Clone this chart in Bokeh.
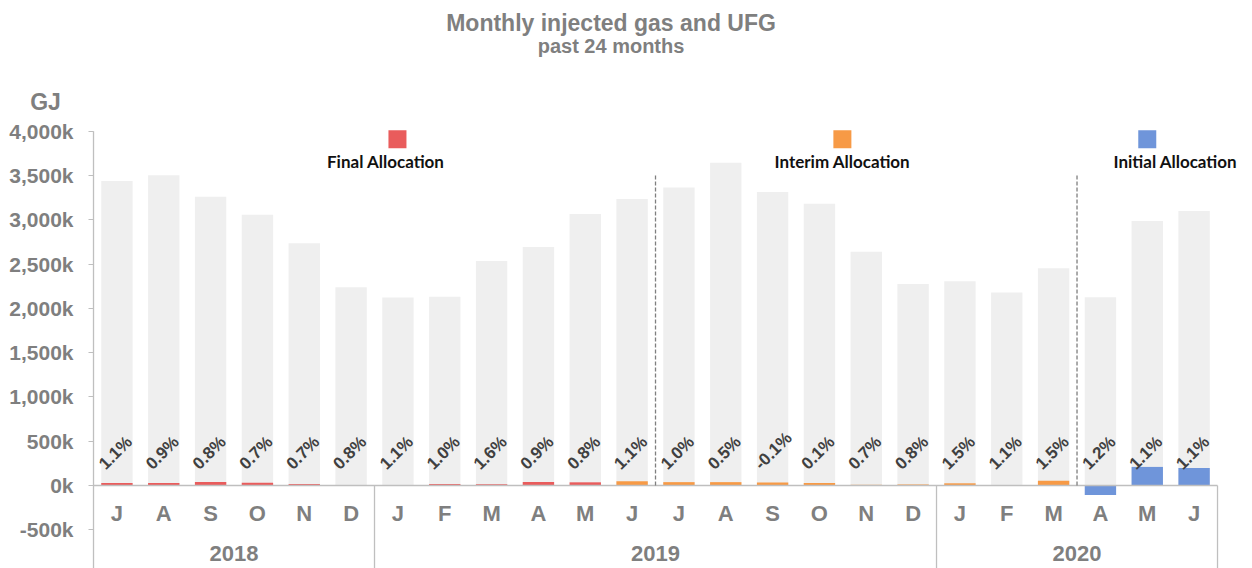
import math
from itertools import accumulate
from bokeh.plotting import figure
from bokeh.models import Range1d, LinearAxis, FixedTicker, Label, ColumnDataSource
from bokeh.core.properties import value
from bokeh.embed import file_html
from bokeh.resources import INLINE

# ---------------- data ----------------
years = ["2018", "2019", "2020"]
months_per_year = [6, 12, 6]
months = ["J", "A", "S", "O", "N", "D",
          "J", "F", "M", "A", "M", "J", "J", "A", "S", "O", "N", "D",
          "J", "F", "M", "A", "M", "J"]
injected_kgj = [3437, 3504, 3260, 3057, 2735, 2239,
                2122, 2130, 2535, 2693, 3065, 3234, 3366, 3643, 3313, 3181, 2640, 2276,
                2306, 2178, 2453, 2126, 2986, 3099]
ufg_kgj = [28, 28, 40, 32, 16, 3,
           3, 16, 14, 40, 36, 48, 38, 38, 33, 29, 8, 12,
           25, 3, 54, -108, 210, 198]
ufg_pct = ["1.1%", "0.9%", "0.8%", "0.7%", "0.7%", "0.8%",
           "1.1%", "1.0%", "1.6%", "0.9%", "0.8%", "1.1%", "1.0%", "0.5%", "-0.1%", "0.1%", "0.7%", "0.8%",
           "1.5%", "1.1%", "1.5%", "1.2%", "1.1%", "1.1%"]
allocation = ["Final"] * 11 + ["Interim"] * 10 + ["Initial"] * 3
allocation_types = ["Final", "Interim", "Initial"]
allocation_labels = ["Final Allocation", "Interim Allocation", "Initial Allocation"]
period_dividers = [12, 21]          # first month index after each dashed divider
y_ticks = [-500, 0, 500, 1000, 1500, 2000, 2500, 3000, 3500, 4000]

# ---------------- styles ----------------
FONT = "Liberation Sans"
LEGEND_FONT = "Lato"
GREY_TXT = "#7f7f7f"
BAR_GREY = "#efefef"
COLORS = {"Final": "#e95c5c", "Interim": "#f79a46", "Initial": "#6f95da"}
AXIS_LINE = "#bfbfbf"

n = len(months)
xs = list(range(n))
Y_MIN, Y_MAX = -937, 5476
X_MIN, X_MAX = -2.486, n + 0.247
AX_TOP = y_ticks[-1]
LEFT = -0.5
RIGHT = n - 0.5

p = figure(width=1252, height=568,
           x_range=Range1d(X_MIN, X_MAX), y_range=Range1d(Y_MIN, Y_MAX),
           output_backend="svg", toolbar_location=None, title=None,
           min_border_left=0, min_border_right=0, min_border_top=0, min_border_bottom=0)
p.xgrid.visible = False
p.ygrid.visible = False
p.outline_line_color = None
p.background_fill_color = "white"

# bars
src = ColumnDataSource(dict(x=xs, injected=injected_kgj, ufg=ufg_kgj, pct=ufg_pct,
                            color=[COLORS[a] for a in allocation]))
p.vbar(x="x", top="injected", bottom=0, width=0.67, source=src,
       fill_color=BAR_GREY, line_color=None)
p.vbar(x="x", top="ufg", bottom=0, width=0.67, source=src,
       fill_color="color", line_color=None)

# percent labels
p.text(x="x", y=0, text="pct", source=src, angle=math.pi / 4,
       x_offset=-15, y_offset=-19,
       text_font=value(FONT), text_font_style="bold", text_font_size="17px",
       text_color="#404040", text_align="left", text_baseline="alphabetic")

# axis lines (drawn as segments so they stop where the chart's axes stop)
p.segment(x0=[LEFT, LEFT], y0=[0, Y_MIN], x1=[RIGHT, LEFT], y1=[0, AX_TOP],
          line_color=AXIS_LINE, line_width=1.3)

# year separators in axis area
bounds = [c - 0.5 for c in accumulate(months_per_year)]
p.segment(x0=bounds, y0=[0] * len(bounds), x1=bounds, y1=[Y_MIN] * len(bounds),
          line_color=AXIS_LINE, line_width=1.3)

# dashed period dividers
div_x = [d - 0.5 for d in period_dividers]
p.segment(x0=div_x, y0=[0] * len(div_x), x1=div_x, y1=[3510] * len(div_x),
          line_color="#7f7f7f", line_width=1.3, line_dash="4 2")

# legend markers + texts
leg_x = [5.99, 15.49, 22.0]
p.scatter(x=leg_x, y=[3909] * 3, marker="square", size=18,
          fill_color=[COLORS[a] for a in allocation_types], line_color=None)
leg_tx = [5.74, 15.49, 22.6]
for lx, lab in zip(leg_tx, allocation_labels):
    p.add_layout(Label(x=lx, y=3660, text=lab, text_font=LEGEND_FONT, text_font_style="bold",
                       text_font_size="17px", text_color="#111111",
                       text_align="center", text_baseline="alphabetic"))

# title + unit
p.add_layout(Label(x=10.55, y=5223, text="Monthly injected gas and UFG", text_font=FONT,
                   text_font_style="bold", text_font_size="23px", text_color=GREY_TXT,
                   text_align="center", text_baseline="alphabetic"))
p.add_layout(Label(x=10.55, y=4967, text="past 24 months", text_font=FONT,
                   text_font_style="bold", text_font_size="20px", text_color=GREY_TXT,
                   text_align="center", text_baseline="alphabetic"))
p.add_layout(Label(x=-1.525, y=4335, text="GJ", text_font=FONT,
                   text_font_style="bold", text_font_size="23px", text_color=GREY_TXT,
                   text_align="center", text_baseline="alphabetic"))

# y axis at x = LEFT
ya = p.yaxis[0]
ya.fixed_location = LEFT
ya.ticker = FixedTicker(ticks=y_ticks)
ya.major_label_overrides = {t: f"{t:,}k" for t in y_ticks}
ya.minor_tick_line_color = None
ya.major_tick_in = 0
ya.major_tick_out = 5
ya.major_tick_line_color = AXIS_LINE
ya.axis_line_color = None
ya.major_label_standoff = 15
ya.major_label_text_font = FONT
ya.major_label_text_font_style = "bold"
ya.major_label_text_font_size = "21px"
ya.major_label_text_color = GREY_TXT

# month axis at y = 0
xa = p.xaxis[0]
xa.fixed_location = 0
xa.ticker = FixedTicker(ticks=xs)
xa.major_label_overrides = {i: m for i, m in zip(xs, months)}
xa.major_tick_line_color = None
xa.minor_tick_line_color = None
xa.axis_line_color = None
xa.major_label_standoff = 9
xa.major_label_text_font = FONT
xa.major_label_text_font_style = "bold"
xa.major_label_text_font_size = "22px"
xa.major_label_text_color = GREY_TXT

# year axis at y = 0
starts = [0] + list(accumulate(months_per_year))[:-1]
year_centers = [s + c / 2 - 0.5 for s, c in zip(starts, months_per_year)]
yr = LinearAxis(fixed_location=0, ticker=FixedTicker(ticks=year_centers),
                major_label_overrides={c: y for c, y in zip(year_centers, years)},
                axis_line_color=None, major_tick_line_color=None, minor_tick_line_color=None,
                major_label_standoff=54, major_label_text_font=FONT,
                major_label_text_font_style="bold", major_label_text_font_size="22px",
                major_label_text_color=GREY_TXT)
p.add_layout(yr, "below")

open("out.html", "w").write(file_html(p, INLINE))
